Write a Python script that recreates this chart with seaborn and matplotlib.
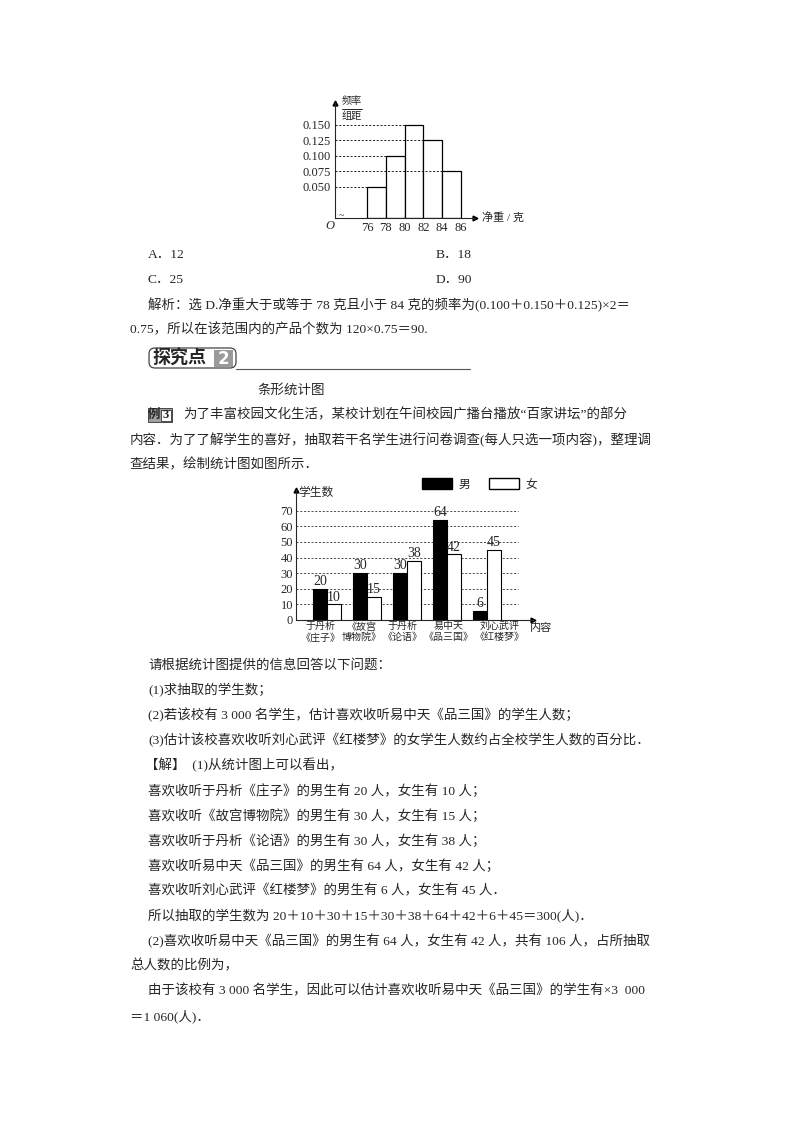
import numpy as np
import pandas as pd
import matplotlib
matplotlib.use('Agg')
import matplotlib.pyplot as plt
from matplotlib.patches import Patch, FancyBboxPatch, Rectangle
from matplotlib.transforms import ScaledTranslation
import seaborn as sns

sns.set_style('white')
FAM = ['Liberation Serif', 'Noto Sans CJK SC']
plt.rcParams['font.family'] = FAM
plt.rcParams['axes.unicode_minus'] = False

# ------------------------------------------------------------
# data
# ------------------------------------------------------------
# histogram of net weight
weight_edges = [76, 78, 80, 82, 84, 86]
freq_density = [0.050, 0.100, 0.150, 0.125, 0.075]

# bar chart of listening preferences
programs = ['于丹析\n《庄子》', '《故宫\n博物院》', '于丹析\n《论语》', '易中天\n《品三国》', '刘心武评\n《红楼梦》']
male = [20, 30, 30, 64, 6]
female = [10, 15, 38, 42, 45]
count_ticks = [0, 10, 20, 30, 40, 50, 60, 70]

W, H = 800, 1132
BODY = 9.7
fig = plt.figure(figsize=(W / 100, H / 100), dpi=100)


def px_axes(left, top, width, height, **kw):
    return fig.add_axes([left / W, 1 - (top + height) / H, width / W, height / H], **kw)


# page layer in pixel coords
page = px_axes(0, 0, W, H)
page.set_xlim(0, W)
page.set_ylim(H, 0)
page.axis('off')


def line(x, y, s, size=BODY, **kw):
    page.text(x, y, s, fontsize=size, va='center', ha='left', family=FAM, **kw)


# ------------------------------------------------------------
# histogram
# ------------------------------------------------------------
ax1 = px_axes(335, 103, 140, 115)
mids = np.array(weight_edges[:-1]) + 1
sns.histplot(x=mids, weights=freq_density, bins=weight_edges, ax=ax1,
             color='white', edgecolor='black', linewidth=0.9, alpha=1)
ax1.set_xlim(72.6, 87.5)
ax1.set_ylim(0, 0.185)
x0 = ax1.get_xlim()[0]
ax1.hlines(freq_density, x0, weight_edges[:-1], colors='black',
           linestyles=(0, (2.5, 2)), linewidth=0.6, zorder=5)
ax1.set_yticks(sorted(freq_density))
ax1.set_yticklabels(['%.3f' % v for v in sorted(freq_density)], fontsize=9)
ax1.set_xticks(weight_edges)
ax1.set_xticklabels([str(v) for v in weight_edges], fontsize=9)
ax1.tick_params(length=0, pad=3)
ax1.set_xlabel('')
ax1.set_ylabel('')
for s in ['top', 'right']:
    ax1.spines[s].set_visible(False)
for s in ['left', 'bottom']:
    ax1.spines[s].set_linewidth(0.8)
ax1.plot(1, 0, '>k', markersize=3.5, transform=ax1.transAxes, clip_on=False)
ax1.plot(0, 1, '^k', markersize=3.5, transform=ax1.transAxes, clip_on=False)
ax1.patch.set_alpha(0)

page.text(330, 226, 'O', fontsize=9, style='italic', ha='center', va='center', family=FAM)
page.text(341, 216, '~', fontsize=7, ha='center', va='center', family=FAM)
page.text(352, 101, '频率', fontsize=7.3, ha='center', va='center', family=FAM)
page.plot([342, 362], [108.5, 108.5], color='black', linewidth=0.6)
page.text(352, 116, '组距', fontsize=7.3, ha='center', va='center', family=FAM)
page.text(482, 217, '净重 / 克', fontsize=8, ha='left', va='center', family=FAM)

# ------------------------------------------------------------
# text block 1
# ------------------------------------------------------------
line(148, 255, 'A．12')
line(436, 255, 'B．18')
line(148, 280, 'C．25')
line(436, 280, 'D．90')
line(148, 305, '解析：选 D.净重大于或等于 78 克且小于 84 克的频率为(0.100＋0.150＋0.125)×2＝')
line(130, 330, '0.75，所以在该范围内的产品个数为 120×0.75＝90.')

# 探究点 header
page.add_patch(FancyBboxPatch((149, 348), 87, 20, boxstyle='round,pad=0,rounding_size=6',
                              facecolor='white', edgecolor='#444444', linewidth=0.9))
page.plot([236, 470], [368.5, 368.5], color='#555555', linewidth=0.8)
page.add_patch(Rectangle((214, 350), 19, 17, facecolor='#9a9a9a', edgecolor='none'))
page.text(152, 358.5, '探究点', fontsize=13, fontweight='bold', va='center', ha='left', family=FAM)
page.text(223.5, 358.5, '2', fontsize=12, fontweight='bold', color='white',
          va='center', ha='center', family=['DejaVu Sans'])

line(258, 390, '条形统计图')

# 例3 badge
page.add_patch(Rectangle((148, 408), 24, 14, facecolor='#a0a0a0', edgecolor='#333333', linewidth=0.6))
page.add_patch(Rectangle((161, 409.5), 10, 11, facecolor='white', edgecolor='#333333', linewidth=0.6))
page.text(154.5, 415, '例', fontsize=9, fontweight='bold', va='center', ha='center', family=FAM)
page.text(166, 415, '3', fontsize=9, fontweight='bold', va='center', ha='center', family=FAM)
line(183, 415, '为了丰富校园文化生活，某校计划在午间校园广播台播放“百家讲坛”的部分')
line(130, 440, '内容．为了了解学生的喜好，抽取若干名学生进行问卷调查(每人只选一项内容)，整理调')
line(130, 465, '查结果，绘制统计图如图所示．')

# ------------------------------------------------------------
# bar chart
# ------------------------------------------------------------
df = pd.DataFrame({
    '内容': programs * 2,
    '性别': ['男'] * len(programs) + ['女'] * len(programs),
    '人数': male + female,
})
ax2 = px_axes(296, 490, 237, 130)
sns.barplot(data=df, x='内容', y='人数', hue='性别', order=programs, hue_order=['男', '女'],
            palette={'男': 'black', '女': 'white'}, saturation=1, width=0.7,
            edgecolor='black', linewidth=0.8, legend=False, ax=ax2, zorder=3)
ax2.set_xlim(-0.775, 5.15)
ax2.set_ylim(0, 83.3)
ax2.hlines(count_ticks[1:], ax2.get_xlim()[0], 4.78, colors='#333333',
           linestyles=(0, (2.5, 2)), linewidth=0.6, zorder=1)
for c in ax2.containers:
    ax2.bar_label(c, fontsize=10, padding=0.5, family=FAM)
ax2.set_yticks(count_ticks)
ax2.set_yticklabels([str(v) for v in count_ticks], fontsize=9)
ax2.set_xticks(range(len(programs)))
ax2.set_xticklabels(programs, fontsize=7.2, linespacing=1.15)
ax2.tick_params(length=0, pad=2)
ax2.tick_params(axis='x', pad=1.5)
# nudge the category labels the way the printed chart spaces them
for lab, dx in zip(ax2.get_xticklabels(), [-6, -5, -4, 2, 13]):
    lab.set_transform(lab.get_transform() + ScaledTranslation(dx / 100, 0, fig.dpi_scale_trans))
ax2.set_xlabel('')
ax2.set_ylabel('')
for s in ['top', 'right']:
    ax2.spines[s].set_visible(False)
for s in ['left', 'bottom']:
    ax2.spines[s].set_linewidth(0.8)
ax2.plot(1, 0, '>k', markersize=3.5, transform=ax2.transAxes, clip_on=False)
ax2.plot(0, 1, '^k', markersize=3.5, transform=ax2.transAxes, clip_on=False)
ax2.patch.set_alpha(0)

page.text(298, 493, '学生数', fontsize=8.5, ha='left', va='center', family=FAM)
page.text(530, 628, '内容', fontsize=8, ha='left', va='center', family=FAM)
fig.legend(handles=[Patch(facecolor='black', edgecolor='black', label='男'),
                    Patch(facecolor='white', edgecolor='black', label='女')],
           ncol=2, loc='center left', bbox_to_anchor=(422 / W, 1 - 484.5 / H),
           frameon=False, handlelength=2.5, handleheight=1.0, handletextpad=0.6,
           columnspacing=1.6, borderpad=0, borderaxespad=0,
           prop={'family': FAM, 'size': 8.5})

# ------------------------------------------------------------
# text block 2
# ------------------------------------------------------------
line(148, 665, '请根据统计图提供的信息回答以下问题：')
line(148, 690, '(1)求抽取的学生数；')
line(148, 715, '(2)若该校有 3 000 名学生，估计喜欢收听易中天《品三国》的学生人数；')
line(148, 740, '(3)估计该校喜欢收听刘心武评《红楼梦》的女学生人数约占全校学生人数的百分比．')
line(145, 765, '【解】  (1)从统计图上可以看出，')
line(148, 791, '喜欢收听于丹析《庄子》的男生有 20 人，女生有 10 人；')
line(148, 816, '喜欢收听《故宫博物院》的男生有 30 人，女生有 15 人；')
line(148, 841, '喜欢收听于丹析《论语》的男生有 30 人，女生有 38 人；')
line(148, 866, '喜欢收听易中天《品三国》的男生有 64 人，女生有 42 人；')
line(148, 891, '喜欢收听刘心武评《红楼梦》的男生有 6 人，女生有 45 人．')
line(148, 916, '所以抽取的学生数为 20＋10＋30＋15＋30＋38＋64＋42＋6＋45＝300(人)．')
line(148, 941, '(2)喜欢收听易中天《品三国》的男生有 64 人，女生有 42 人，共有 106 人，占所抽取')
line(130, 966, '总人数的比例为，')
line(148, 991, '由于该校有 3 000 名学生，因此可以估计喜欢收听易中天《品三国》的学生有×3  000')
line(130, 1016, '＝1 060(人)．')

fig.savefig('out.png', dpi=100)
